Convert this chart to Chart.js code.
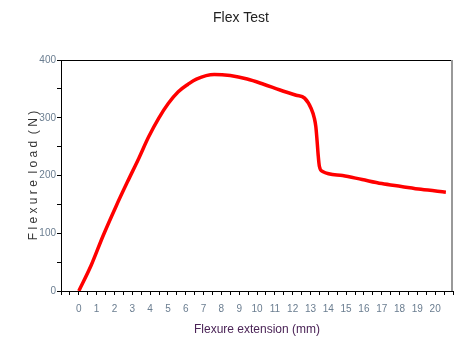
<!DOCTYPE html>
<html lang="en">
<head>
  <meta charset="UTF-8" />
  <title>Flex Test</title>
  <script src="https://cdn.jsdelivr.net/npm/chart.js"></script>
  <style>
    body { margin: 0; background: #fff; }
    #wrap { width: 461px; height: 343px; }
  </style>
</head>
<body>
<div id="wrap"><canvas id="chart" width="461" height="343"></canvas></div>
<script>
  // values
  const extension = [0, 0.7, 1.34, 2.08, 2.73, 3.37, 3.92, 4.48, 5.03, 5.58, 6.13, 6.6, 7.6, 8.5, 9.45,
    10.37, 11.29, 12.2, 12.67, 13.04, 13.22, 13.3, 13.37, 13.44, 13.5, 13.68, 14.8, 15.9, 17.0, 18.1, 19.2, 20.6];
  const load = [0, 45, 94, 146, 189, 230, 267, 299, 325, 345, 358, 367, 375, 373, 367,
    358, 348, 339, 334, 316, 299, 285, 261, 233, 216, 207, 200, 193, 186, 181, 176, 171];

  const chartTitle = "Flex Test";
  const xTitle = "Flexure extension (mm)";
  const yTitle = "F l e x u r e  l o a d  ( N )";

  // title (off-centre like the original) plus top and right frame lines
  const frame = {
    id: "frame",
    afterDraw(c) {
      const a = c.chartArea, ctx = c.ctx;
      ctx.save();
      ctx.fillStyle = "#222";
      ctx.font = "14px 'Liberation Sans'";
      ctx.textAlign = "center";
      ctx.textBaseline = "middle";
      ctx.fillText(chartTitle, 241, 18);

      ctx.lineWidth = 1;
      ctx.strokeStyle = "#000";
      ctx.beginPath();
      ctx.moveTo(a.left, a.top + 0.5);
      ctx.lineTo(a.right, a.top + 0.5);
      ctx.stroke();
      ctx.strokeStyle = "#999";
      ctx.lineWidth = 2;
      ctx.beginPath();
      ctx.moveTo(a.right - 1, a.top);
      ctx.lineTo(a.right - 1, a.bottom);
      ctx.stroke();
      ctx.restore();
    }
  };

  new Chart(document.getElementById("chart"), {
    type: "line",
    data: {
      datasets: [{
        data: extension.map((x, i) => ({ x: x, y: load[i] })),
        borderColor: "#ff0000",
        borderWidth: 3.5,
        pointRadius: 0,
        cubicInterpolationMode: "monotone",
        fill: false
      }]
    },
    options: {
      responsive: false,
      animation: false,
      layout: { padding: { top: 60 } },
      plugins: {
        legend: { display: false },
        tooltip: { enabled: false },
        title: { display: false }
      },
      scales: {
        x: {
          type: "linear",
          min: -1,
          max: 21,
          afterFit: s => { s.height = 52; },
          border: { color: "#000", width: 1 },
          grid: { drawOnChartArea: false, drawTicks: true, tickLength: 4, color: "#000" },
          ticks: {
            stepSize: 0.5,
            autoSkip: false,
            maxRotation: 0,
            padding: 8,
            color: "#6a7d90",
            font: { family: "Liberation Sans", size: 10 },
            callback: v => (Number.isInteger(v) && v >= 0 && v <= 20) ? String(v) : ""
          },
          title: {
            display: true,
            text: xTitle,
            color: "#4b2457",
            font: { family: "Liberation Sans", size: 12 },
            padding: { top: 0, bottom: 6 }
          }
        },
        y: {
          min: 0,
          max: 400,
          afterFit: s => { s.width = 61; },
          border: { color: "#000", width: 1 },
          grid: { drawOnChartArea: false, drawTicks: true, tickLength: 4, color: "#000" },
          ticks: {
            stepSize: 50,
            padding: 1,
            color: "#6a7d90",
            font: { family: "Liberation Sans", size: 10 },
            callback: v => (v % 100 === 0) ? String(v) : ""
          },
          title: {
            display: true,
            text: yTitle,
            color: "#333",
            font: { family: "Liberation Sans", size: 12 },
            padding: { top: 26, bottom: 0 }
          }
        }
      }
    },
    plugins: [frame]
  });
</script>
</body>
</html>
